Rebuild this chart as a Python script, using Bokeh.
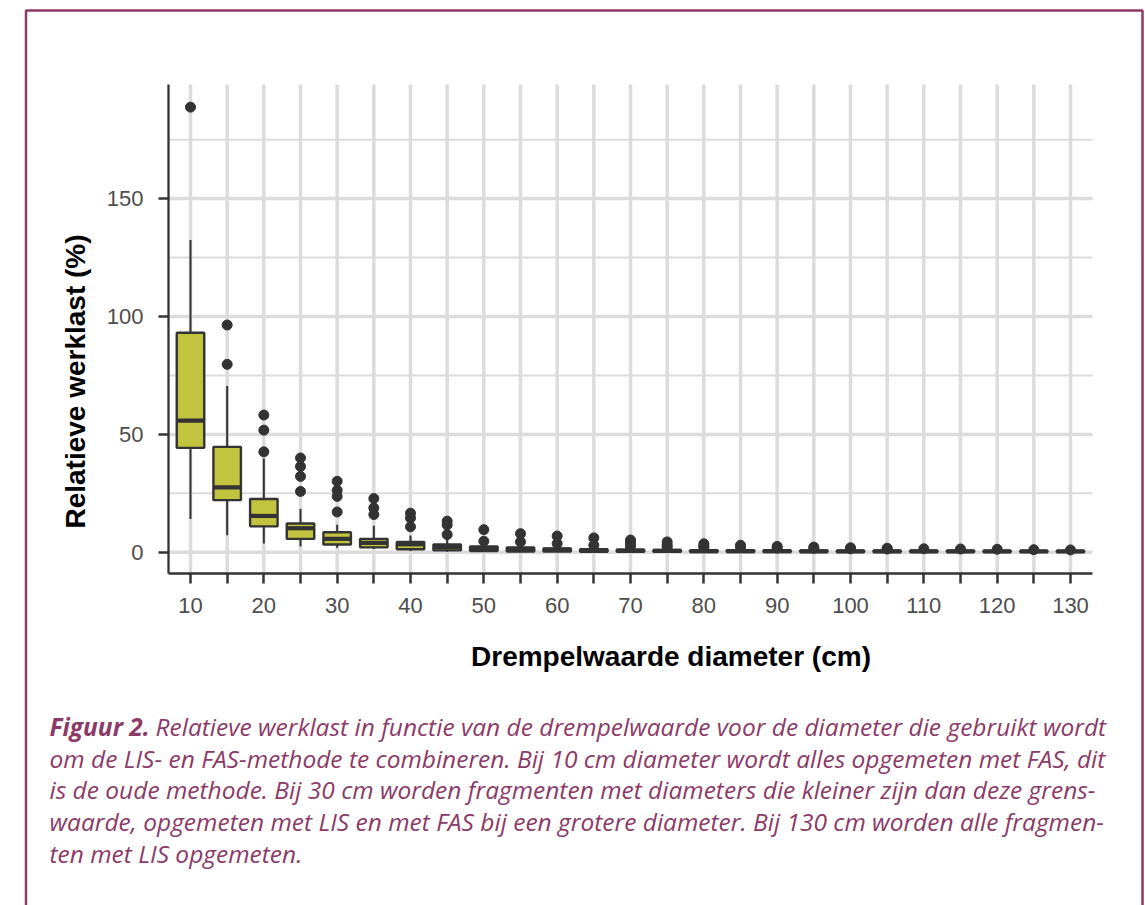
import math

from bokeh.embed import file_html
from bokeh.models import BoxAnnotation, FixedTicker, Label, Range1d
from bokeh.plotting import figure
from bokeh.resources import INLINE

# ---- data -----------------------------------------------------------------
diameters = [10, 15, 20, 25, 30, 35, 40, 45, 50, 55, 60, 65, 70,
             75, 80, 85, 90, 95, 100, 105, 110, 115, 120, 125, 130]

whisker_low = [14.1, 7.2, 3.7, 2.5, 1.9, 1.4, 0.5, 0.2, 0.1, 0.0, 0.0, 0.0, 0.0,
               0.0, 0.0, 0.0, 0.0, 0.0, 0.0, 0.0, 0.0, 0.0, 0.0, 0.0, 0.0]
q1 = [44.3, 22.1, 11.0, 5.7, 3.3, 2.1, 1.3, 0.8, 0.5, 0.3, 0.3, 0.2, 0.2,
      0.2, 0.1, 0.1, 0.1, 0.1, 0.1, 0.1, 0.1, 0.1, 0.1, 0.1, 0.1]
medians = [55.8, 27.5, 15.4, 10.2, 5.7, 4.0, 3.4, 2.2, 1.6, 1.3, 1.1, 0.9, 0.7,
           0.6, 0.5, 0.5, 0.5, 0.4, 0.4, 0.4, 0.4, 0.4, 0.4, 0.4, 0.4]
q3 = [93.1, 44.7, 22.6, 12.2, 8.5, 5.7, 4.4, 3.3, 2.5, 2.0, 1.6, 1.3, 1.1,
      1.0, 0.9, 0.9, 0.8, 0.8, 0.7, 0.7, 0.7, 0.7, 0.6, 0.6, 0.6]
whisker_high = [132.5, 70.5, 39.8, 18.4, 11.7, 11.3, 7.1, 5.5, 3.8, 3.2, 2.8, 2.4, 2.0,
                1.8, 1.6, 1.5, 1.4, 1.3, 1.2, 1.2, 1.1, 1.1, 1.0, 1.0, 0.9]
outliers = [
    [188.8],
    [96.4, 79.7],
    [58.2, 51.8, 42.6],
    [40.0, 36.4, 32.2, 25.8],
    [30.1, 26.3, 23.7, 17.1],
    [22.8, 18.8, 16.0],
    [16.6, 14.5, 10.8],
    [13.2, 11.6, 7.5],
    [9.6, 4.7],
    [7.9, 4.4],
    [6.9, 3.7],
    [6.1, 3.0],
    [5.2, 3.9, 2.6],
    [4.4, 3.0, 2.2],
    [3.6, 2.6, 2.0],
    [3.0, 2.2],
    [2.5, 1.8],
    [2.2, 1.7],
    [1.9, 1.5],
    [1.7, 1.4],
    [1.5],
    [1.4],
    [1.3],
    [1.1],
    [1.0],
]

x_tick_labels = [10, 20, 30, 40, 50, 60, 70, 80, 90, 100, 110, 120, 130]
y_tick_labels = [0, 50, 100, 150]
y_minor_grid = [25, 75, 125, 175]

x_title = "Drempelwaarde diameter (cm)"
y_title = "Relatieve werklast (%)"
caption_head = "Figuur 2."
caption_lines = [
    "Relatieve werklast in functie van de drempelwaarde voor de diameter die gebruikt wordt",
    "om de LIS- en FAS-methode te combineren. Bij 10 cm diameter wordt alles opgemeten met FAS, dit",
    "is de oude methode. Bij 30 cm worden fragmenten met diameters die kleiner zijn dan deze grens-",
    "waarde, opgemeten met LIS en met FAS bij een grotere diameter. Bij 130 cm worden alle fragmen-",
    "ten met LIS opgemeten.",
]

# ---- layout & styling ---------------------------------------------------------
W, H = 1145, 905
BOX_FILL = "#C2C43F"
INK = "#333333"
GRID = "#DCDCDC"
PURPLE = "#8C3A67"
BOX_WIDTH = 3.75

# visible panel: data window and where it sits on the page (pixels from top-left)
X_LO, X_HI = 7, 133
Y_LO, Y_HI = -9, 198.4
PANEL_L, PANEL_R, PANEL_T, PANEL_B = 168, 1092, 84, 573

# the plotting frame covers the whole page; ranges are widened so the
# panel window lands at the position above
kx = (PANEL_R - PANEL_L) / (X_HI - X_LO)
ky = (PANEL_B - PANEL_T) / (Y_HI - Y_LO)
x_range = Range1d(X_LO - PANEL_L / kx, X_HI + (W - PANEL_R) / kx)
y_range = Range1d(Y_LO - (H - PANEL_B) / ky, Y_HI + PANEL_T / ky)


def sx(px):
    """Page x (from the left) to screen units."""
    return px


def sy(py):
    """Page y (from the top) to screen units (measured from the bottom)."""
    return H - py


p = figure(
    width=W, height=H,
    output_backend="svg", toolbar_location=None,
    x_range=x_range, y_range=y_range,
    min_border=0,
)
p.title.visible = False
p.outline_line_color = None
p.background_fill_color = "white"
p.border_fill_color = "white"
p.grid.visible = False

# grid lines, limited to the panel
n = len(diameters)
p.segment(x0=diameters, y0=[Y_LO] * n, x1=diameters, y1=[Y_HI] * n,
          line_color=GRID, line_width=3.5)
p.segment(x0=[X_LO] * len(y_minor_grid), y0=y_minor_grid,
          x1=[X_HI] * len(y_minor_grid), y1=y_minor_grid,
          line_color=GRID, line_width=2)
p.segment(x0=[X_LO] * len(y_tick_labels), y0=y_tick_labels,
          x1=[X_HI] * len(y_tick_labels), y1=y_tick_labels,
          line_color=GRID, line_width=3.5)

# axes drawn along the panel edges
p.xaxis.fixed_location = Y_LO
p.xaxis.bounds = (X_LO, X_HI)
p.yaxis.fixed_location = X_LO
p.yaxis.bounds = (Y_LO, Y_HI)
p.xaxis.ticker = FixedTicker(ticks=x_tick_labels,
                             minor_ticks=[d for d in diameters if d not in x_tick_labels])
p.yaxis.ticker = FixedTicker(ticks=y_tick_labels)
for ax in (p.xaxis, p.yaxis):
    ax.axis_line_color = INK
    ax.axis_line_width = 2.3
    ax.major_tick_line_color = INK
    ax.major_tick_line_width = 2.5
    ax.major_tick_in = 0
    ax.major_tick_out = 10
    ax.major_label_text_font = "Liberation Sans"
    ax.major_label_text_font_size = "22px"
    ax.major_label_text_color = "#4D4D4D"
p.xaxis.minor_tick_line_color = INK
p.xaxis.minor_tick_line_width = 2.5
p.xaxis.minor_tick_in = 0
p.xaxis.minor_tick_out = 10
p.yaxis.minor_tick_line_color = None
p.xaxis.major_label_standoff = 14
p.yaxis.major_label_standoff = 15

# boxplots
p.segment(x0=diameters, y0=q3, x1=diameters, y1=whisker_high, line_color=INK, line_width=2)
p.segment(x0=diameters, y0=q1, x1=diameters, y1=whisker_low, line_color=INK, line_width=2)
p.vbar(x=diameters, width=BOX_WIDTH, top=q3, bottom=q1,
       fill_color=BOX_FILL, line_color=INK, line_width=2.4)
half = BOX_WIDTH / 2
p.segment(x0=[d - half for d in diameters], y0=medians,
          x1=[d + half for d in diameters], y1=medians,
          line_color=INK, line_width=4.2)

out_x, out_y = [], []
for d, vals in zip(diameters, outliers):
    for v in vals:
        out_x.append(d)
        out_y.append(v)
p.scatter(x=out_x, y=out_y, size=10, color=INK)

# axis titles
p.add_layout(Label(x=sx(670.5), y=sy(656), x_units="screen", y_units="screen",
                   text=x_title, text_font="Liberation Sans", text_font_style="bold",
                   text_font_size="28px", text_color="black",
                   text_align="center", text_baseline="alphabetic"))
p.add_layout(Label(x=sx(75), y=sy(381), x_units="screen", y_units="screen",
                   text=y_title, text_font="Liberation Sans", text_font_style="bold",
                   text_font_size="28px", text_color="black", angle=math.pi / 2,
                   text_align="center", text_baseline="middle"))

# caption
CAP_X = 49
CAP_Y0 = 726
CAP_DY = 31.7
CAP_FONT = "Open Sans"
CAP_SIZE = "24.5px"
p.add_layout(Label(x=sx(CAP_X), y=sy(CAP_Y0), x_units="screen", y_units="screen",
                   text=caption_head, text_font=CAP_FONT, text_font_style="bold italic",
                   text_font_size=CAP_SIZE, text_color=PURPLE, text_baseline="alphabetic"))
for i, line in enumerate(caption_lines):
    x0 = 155 if i == 0 else CAP_X
    p.add_layout(Label(x=sx(x0), y=sy(CAP_Y0 + i * CAP_DY), x_units="screen", y_units="screen",
                       text=line, text_font=CAP_FONT, text_font_style="italic",
                       text_font_size=CAP_SIZE, text_color=PURPLE, text_baseline="alphabetic"))

# frame around figure and caption (open at the bottom)
p.add_layout(BoxAnnotation(left=sx(25.5), right=sx(1142), top=sy(10), bottom=sy(H + 30),
                           left_units="screen", right_units="screen",
                           top_units="screen", bottom_units="screen",
                           fill_alpha=0, line_color=PURPLE, line_width=2.5, line_alpha=1))

open("out.html", "w").write(file_html(p, INLINE))
